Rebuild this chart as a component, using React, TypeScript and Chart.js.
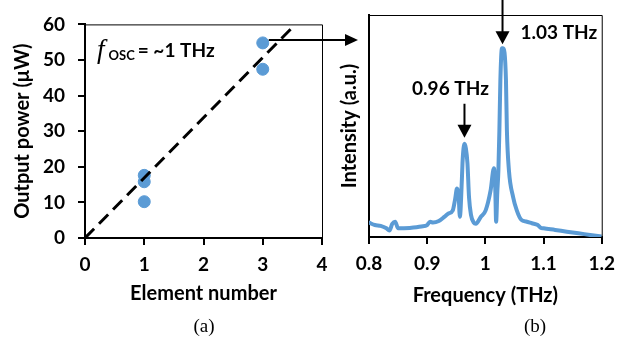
import React, { useEffect, useRef } from 'react';
import { Chart, registerables } from 'chart.js';

Chart.register(...registerables);

// Panel (a)
const elementNumber = [1, 1, 1, 3, 3];
const outputPower = [17.6, 15.8, 10.2, 54.8, 47.4];
const fitX = [0, 3.55];
const fitY = [0, 60];

// Panel (b)
const freq = [0.8, 0.81, 0.82, 0.83, 0.835, 0.84, 0.845, 0.85, 0.87, 0.89, 0.9, 0.905, 0.91, 0.92, 0.93, 0.936, 0.944, 0.948, 0.9512, 0.954, 0.9562, 0.9596, 0.9607, 0.9625, 0.9641, 0.9665, 0.9692, 0.9719, 0.9753, 0.98, 0.9837, 0.992, 1.0005, 1.009, 1.0147, 1.017, 1.0185, 1.0205, 1.0224, 1.0241, 1.0258, 1.0285, 1.0305, 1.0354, 1.037, 1.0405, 1.0477, 1.054, 1.062, 1.07, 1.08, 1.09, 1.095, 1.1, 1.12, 1.14, 1.16, 1.18, 1.2];
const intensity = [0.065, 0.054, 0.05, 0.039, 0.029, 0.059, 0.069, 0.039, 0.041, 0.047, 0.054, 0.069, 0.065, 0.072, 0.092, 0.105, 0.12, 0.17, 0.218, 0.19, 0.091, 0.257, 0.333, 0.4, 0.42, 0.4, 0.333, 0.18, 0.1, 0.065, 0.06, 0.09, 0.12, 0.21, 0.31, 0.22, 0.069, 0.2, 0.3, 0.48, 0.707, 0.85, 0.85, 0.707, 0.482, 0.3, 0.18, 0.12, 0.077, 0.07, 0.062, 0.054, 0.042, 0.039, 0.032, 0.024, 0.017, 0.009, 0.002];

const peakFreqs = [0.9641, 1.0295];
const peakLabels = ['0.96 THz', '1.03 THz'];
const peakValues = [0.42, 0.85];

const BLUE = '#5B9BD5';
const FONT = 'Lato';
const FS = 19;
const TFS = 20;

const boxPlugin = {
  id: 'box',
  afterDraw(chart: any) {
    const { ctx, chartArea: a } = chart;
    ctx.save();
    ctx.strokeStyle = '#000';
    ctx.lineWidth = 1;
    ctx.beginPath();
    ctx.moveTo(a.left, a.top + 0.5);
    ctx.lineTo(a.right + 0.5, a.top + 0.5);
    ctx.lineTo(a.right + 0.5, a.bottom);
    ctx.stroke();
    ctx.restore();
  },
};

function arrowRight(ctx: any, x0: number, x1: number, y: number) {
  ctx.beginPath();
  ctx.moveTo(x0, y);
  ctx.lineTo(x1 - 12, y);
  ctx.stroke();
  ctx.beginPath();
  ctx.moveTo(x1 - 13, y - 6);
  ctx.lineTo(x1, y);
  ctx.lineTo(x1 - 13, y + 6);
  ctx.closePath();
  ctx.fill();
}

function arrowDown(ctx: any, x: number, y0: number, y1: number) {
  ctx.beginPath();
  ctx.moveTo(x, y0);
  ctx.lineTo(x, y1 - 12);
  ctx.stroke();
  ctx.beginPath();
  ctx.moveTo(x - 7, y1 - 13);
  ctx.lineTo(x, y1);
  ctx.lineTo(x + 7, y1 - 13);
  ctx.closePath();
  ctx.fill();
}

const annotAPlugin = {
  id: 'annotA',
  afterDraw(chart: any) {
    const { ctx, chartArea: a, scales } = chart;
    const xs = scales.x, ys = scales.y;
    ctx.save();
    ctx.fillStyle = '#000';
    ctx.strokeStyle = '#000';
    ctx.lineWidth = 2;
    const py = ys.getPixelForValue(outputPower[3]) - 3;
    const px = xs.getPixelForValue(elementNumber[3]) + 6;
    arrowRight(ctx, px, a.right + 36, py);
    // f_OSC label
    let x = a.left + 12;
    const base = a.top + 33;
    ctx.textBaseline = 'alphabetic';
    ctx.font = `italic 27px "Liberation Serif"`;
    ctx.fillText('f', x, base + 1);
    x += ctx.measureText('f').width + 4;
    ctx.font = `bold 13px ${FONT}`;
    ctx.fillText('OSC', x, base + 3);
    x += ctx.measureText('OSC').width + 3;
    ctx.font = `bold ${FS}px ${FONT}`;
    ctx.fillText('= ~1 THz', x, base);
    ctx.restore();
  },
};

const annotBPlugin = {
  id: 'annotB',
  afterDraw(chart: any) {
    const { ctx, scales } = chart;
    const xs = scales.x, ys = scales.y;
    ctx.save();
    ctx.fillStyle = '#000';
    ctx.strokeStyle = '#000';
    ctx.lineWidth = 2;
    ctx.font = `bold ${FS}px ${FONT}`;
    ctx.textBaseline = 'alphabetic';
    // 1.03 THz
    const x2 = xs.getPixelForValue(peakFreqs[1]);
    const tip2 = ys.getPixelForValue(peakValues[1]) - 4;
    arrowDown(ctx, x2, 0, tip2);
    ctx.textAlign = 'left';
    ctx.fillText(peakLabels[1], x2 + 18, tip2 - 5);
    // 0.96 THz
    const x1 = xs.getPixelForValue(peakFreqs[0]);
    const tip1 = ys.getPixelForValue(peakValues[0]) - 6;
    arrowDown(ctx, x1, tip1 - 34, tip1);
    ctx.textAlign = 'center';
    ctx.fillText(peakLabels[0], x1 - 14, tip1 - 43);
    ctx.restore();
  },
};

function axisCommon() {
  return {
    grid: { display: true, drawOnChartArea: false, drawTicks: true, tickLength: 7, color: '#000', lineWidth: 2 },
    border: { display: true, color: '#000', width: 2 },
    ticks: { color: '#000', font: { family: FONT, size: FS, weight: 'bold' as const } },
  };
}

const titleFont = { family: FONT, size: TFS, weight: 'bold' };

export default function App() {
  const refA = useRef<HTMLCanvasElement>(null);
  const refB = useRef<HTMLCanvasElement>(null);

  useEffect(() => {
    document.body.style.margin = '0';
    const cA = new Chart(refA.current!, {
      type: 'scatter',
      data: {
        datasets: [
          {
            data: fitX.map((x, i) => ({ x, y: fitY[i] })),
            showLine: true,
            borderColor: '#000',
            borderWidth: 3,
            borderDash: [13, 7],
            pointRadius: 0,
            order: 0,
          },
          {
            data: elementNumber.map((x, i) => ({ x, y: outputPower[i] })),
            backgroundColor: BLUE,
            borderColor: BLUE,
            pointRadius: 6,
            order: 1,
          },
        ],
      },
      options: {
        animation: false,
        responsive: false,
        devicePixelRatio: 1,
        layout: { padding: { left: 0, top: 17, right: 43, bottom: 0 } },
        plugins: { legend: { display: false }, tooltip: { enabled: false } },
        scales: {
          x: {
            ...axisCommon(),
            type: 'linear',
            min: 0,
            max: 4,
            ticks: { ...axisCommon().ticks, stepSize: 1, padding: 8 },
            title: { display: true, text: 'Element number', color: '#000', font: titleFont, padding: { top: 0, bottom: 32 } },
            afterFit: (s: any) => { s.height = 338 - 238; },
          },
          y: {
            ...axisCommon(),
            min: 0,
            max: 60,
            ticks: { ...axisCommon().ticks, stepSize: 10, padding: 13 },
            title: { display: true, text: 'Output power (μW)', color: '#000', font: titleFont, padding: { top: 11, bottom: 0 } },
            afterFit: (s: any) => { s.width = 85; },
          },
        },
      } as any,
      plugins: [boxPlugin, annotAPlugin],
    });

    const cB = new Chart(refB.current!, {
      type: 'line',
      data: {
        datasets: [
          {
            data: freq.map((x, i) => ({ x, y: intensity[i] })),
            borderColor: BLUE,
            borderWidth: 4,
            pointRadius: 0,
            cubicInterpolationMode: 'monotone',
            borderJoinStyle: 'round',
            borderCapStyle: 'round',
          },
        ],
      },
      options: {
        animation: false,
        responsive: false,
        devicePixelRatio: 1,
        layout: { padding: { left: 0, top: 15, right: 16, bottom: 0 } },
        plugins: { legend: { display: false }, tooltip: { enabled: false } },
        scales: {
          x: {
            ...axisCommon(),
            type: 'linear',
            min: 0.8,
            max: 1.2,
            ticks: {
              ...axisCommon().ticks,
              stepSize: 0.1,
              padding: 8,
              callback: (v: any) => String(Number(Number(v).toFixed(2))),
            },
            title: { display: true, text: 'Frequency (THz)', color: '#000', font: titleFont, padding: { top: 0, bottom: 30 } },
            afterFit: (s: any) => { s.height = 338 - 237; },
          },
          y: {
            ...axisCommon(),
            min: 0,
            max: 1,
            grid: { display: false, drawTicks: false },
            ticks: { display: false },
            title: { display: true, text: 'Intensity (a.u.)', color: '#000', font: titleFont, padding: { top: 8, bottom: 0 } },
            afterFit: (s: any) => { s.width = 39; },
          },
        },
      } as any,
      plugins: [boxPlugin, annotBPlugin],
    });

    return () => {
      cA.destroy();
      cB.destroy();
    };
  }, []);

  const caption: React.CSSProperties = {
    position: 'absolute',
    top: 315,
    fontFamily: '"Liberation Serif", serif',
    fontSize: 19,
    color: '#000',
    width: 60,
    textAlign: 'center',
    lineHeight: '22px',
  };

  return (
    <div style={{ position: 'absolute', left: 0, top: 0, width: 623, height: 338, background: '#fff', overflow: 'hidden' }}>
      <canvas ref={refA} width={365} height={338} style={{ position: 'absolute', left: 0, top: 0, width: 365, height: 338 }} />
      <canvas ref={refB} width={293} height={338} style={{ position: 'absolute', left: 330, top: 0, width: 293, height: 338 }} />
      <div style={{ ...caption, left: 204 - 30 }}>(a)</div>
      <div style={{ ...caption, left: 535 - 30 }}>(b)</div>
    </div>
  );
}
